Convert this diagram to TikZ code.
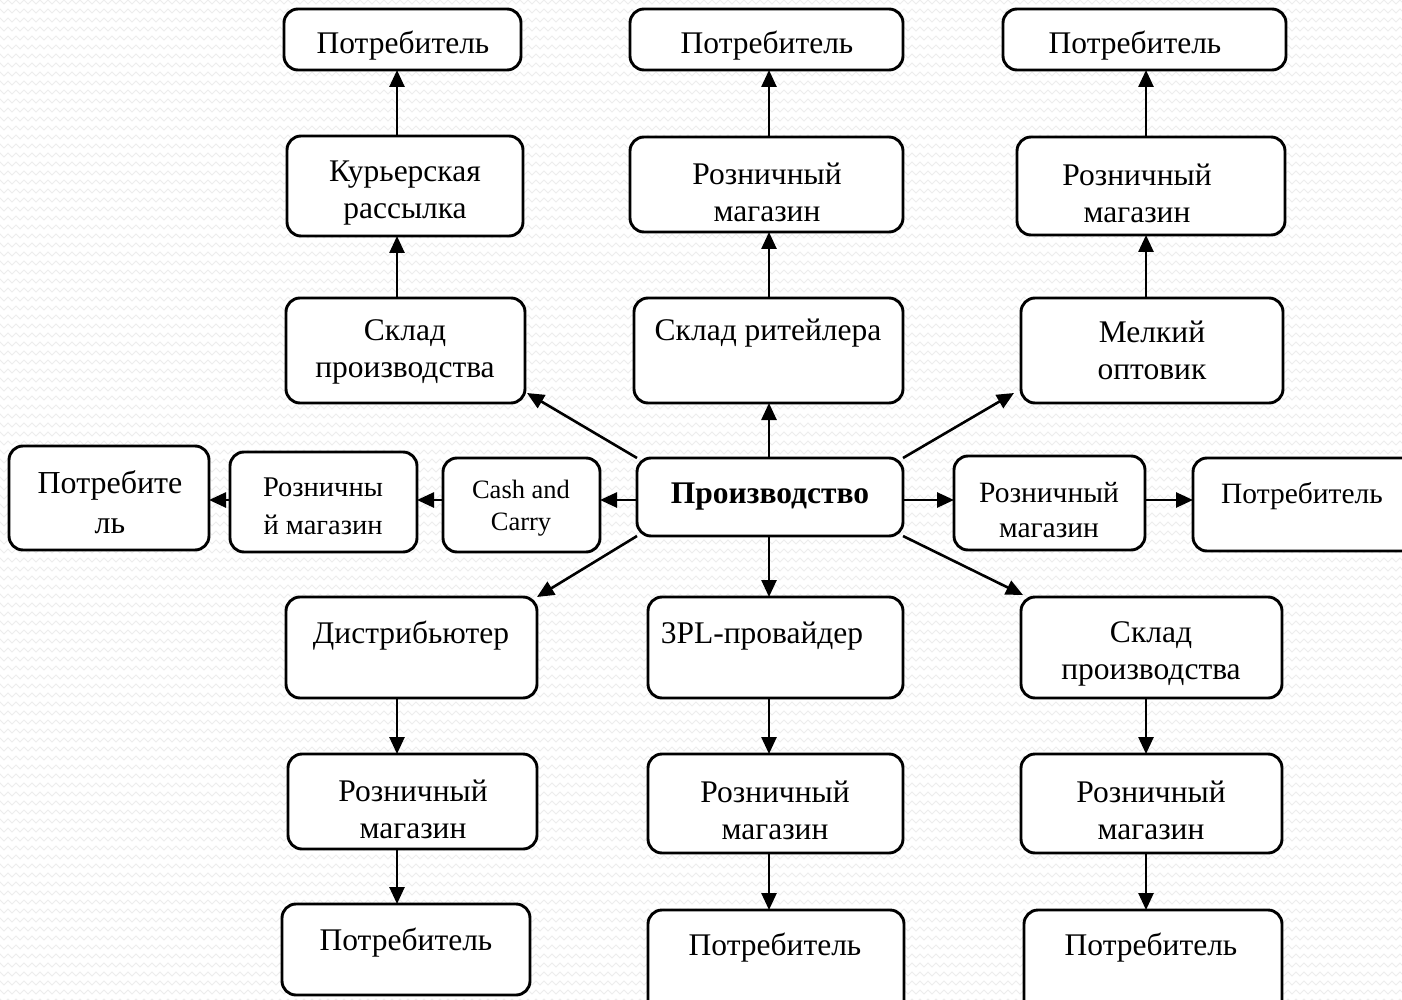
\documentclass[tikz,border=0pt]{standalone}
\usepackage{fontspec}
\setmainfont{Liberation Serif}
\usetikzlibrary{arrows.meta,decorations.pathmorphing}
\tikzset{
  box/.style={draw, line width=2.9pt, rounded corners=14pt, fill=white, inner sep=0pt, outer sep=0pt},
  txt/.style={font=\fontsize{31.5}{37}\selectfont, align=center, inner sep=0pt},
  txtl/.style={font=\fontsize{32}{40}\selectfont, align=center, inner sep=0pt},
  txts/.style={font=\fontsize{28.5}{38}\selectfont, align=center, inner sep=0pt},
  txtc/.style={font=\fontsize{26.5}{32}\selectfont, align=center, inner sep=0pt},
  txtm/.style={font=\fontsize{29.5}{35}\selectfont, align=center, inner sep=0pt},
  arr/.style={line width=2.6pt, -{Triangle[length=17pt,width=15pt]}},
  bgz/.style={draw=black!7, line width=0.9pt, decorate, decoration={zigzag,segment length=8pt,amplitude=2pt}}
}
\newcommand\bx[5]{\node[box, anchor=north west, minimum width={#4-#2}, minimum height={#5-#3}] (#1) at (#2,#3) {};}
\begin{document}
\begin{tikzpicture}[x=1pt,y=-1pt]
\useasboundingbox (0,0) rectangle (1402,1000);
\clip (0,0) rectangle (1402,1000);
\fill[white] (0,0) rectangle (1402,1000);
\foreach \yy in {2,11,...,1010} {\draw[bgz] (-10,\yy) -- (1412,\yy);}
% boxes
\bx{A1}{284}{9}{521}{70}
\bx{A2}{630}{9}{903}{70}
\bx{A3}{1003}{9}{1286}{70}
\bx{B1}{287}{136}{523}{236}
\bx{B2}{630}{137}{903}{232}
\bx{B3}{1017}{137}{1285}{235}
\bx{C1}{286}{298}{525}{403}
\bx{C2}{634}{298}{903}{403}
\bx{C3}{1021}{298}{1283}{403}
\bx{D1}{9}{446}{209}{550}
\bx{D2}{230}{452}{417}{552}
\bx{D3}{443}{458}{600}{552}
\bx{P}{637}{458}{903}{536}
\bx{D5}{954}{456}{1145}{550}
\bx{D6}{1193}{458}{1420}{551}
\bx{E1}{286}{597}{537}{698}
\bx{E2}{648}{597}{903}{698}
\bx{E3}{1021}{597}{1282}{698}
\bx{F1}{288}{754}{537}{849}
\bx{F2}{648}{754}{903}{853}
\bx{F3}{1021}{754}{1282}{853}
\bx{G1}{282}{904}{530}{995}
\bx{G2}{648}{910}{904}{1015}
\bx{G3}{1024}{910}{1282}{1015}
% texts
\node[txt] (A1t) at (403,46) {Потребитель};
\node[txt] (A2t) at (767,46) {Потребитель};
\node[txt] (A3t) at (1135,46) {Потребитель};
\node[txt] (B1t) at (405,193) {Курьерская\\рассылка};
\node[txt] (B2t) at (767,192) {Розничный\\магазин};
\node[txt] (B3t) at (1137,193) {Розничный\\магазин};
\node[txt] (C1t) at (405,352) {Склад\\производства};
\node[txt] (C2t) at (768,333) {Склад ритейлера};
\node[txt] (C3t) at (1152,350) {Мелкий\\оптовик};
\node[txtl] (D1t) at (110,502) {Потребите\\ль};
\node[txts] (D2t) at (323,506) {Розничны\\й магазин};
\node[txtc] (D3t) at (521,508) {Cash and\\Carry};
\node[txt, font=\fontsize{31.5}{37}\selectfont\bfseries] (Pt) at (770,497) {Производство};
\node[txtm] (D5t) at (1049,510) {Розничный\\магазин};
\node[txtm] (D6t) at (1302,496) {Потребитель};
\node[txt] (E1t) at (411,636) {Дистрибьютер};
\node[txt] (E2t) at (762,636) {3PL-провайдер};
\node[txt] (E3t) at (1151,654) {Склад\\производства};
\node[txt] (F1t) at (413,809) {Розничный\\магазин};
\node[txt] (F2t) at (775,810) {Розничный\\магазин};
\node[txt] (F3t) at (1151,810) {Розничный\\магазин};
\node[txt] (G1t) at (406,943) {Потребитель};
\node[txt] (G2t) at (775,948) {Потребитель};
\node[txt] (G3t) at (1151,948) {Потребитель};
% guides
\coordinate (cL) at (397,0);
\coordinate (cM) at (769,0);
\coordinate (cR) at (1146,0);
\coordinate (hY) at (0,500);
% vertical arrows up
\draw[arr] (C1.north -| cL) -- (B1.south -| cL);
\draw[arr] (B1.north -| cL) -- (A1.south -| cL);
\draw[arr] (P.north -| cM) -- (C2.south -| cM);
\draw[arr] (C2.north -| cM) -- (B2.south -| cM);
\draw[arr] (B2.north -| cM) -- (A2.south -| cM);
\draw[arr] (C3.north -| cR) -- (B3.south -| cR);
\draw[arr] (B3.north -| cR) -- (A3.south -| cR);
% vertical arrows down
\draw[arr] (P.south -| cM) -- (E2.north -| cM);
\draw[arr] (E2.south -| cM) -- (F2.north -| cM);
\draw[arr] (F2.south -| cM) -- (G2.north -| cM);
\draw[arr] (E1.south -| cL) -- (F1.north -| cL);
\draw[arr] (F1.south -| cL) -- (G1.north -| cL);
\draw[arr] (E3.south -| cR) -- (F3.north -| cR);
\draw[arr] (F3.south -| cR) -- (G3.north -| cR);
% horizontal arrows
\draw[arr] (P.west |- hY) -- (D3.east |- hY);
\draw[arr] (D3.west |- hY) -- (D2.east |- hY);
\draw[arr] (D2.west |- hY) -- (D1.east |- hY);
\draw[arr] (P.east |- hY) -- (D5.west |- hY);
\draw[arr] (D5.east |- hY) -- (D6.west |- hY);
% diagonal arrows
\draw[arr] (P.north west) -- ([shift={(2,-10)}]C1.south east);
\draw[arr] (P.north east) -- ([shift={(-7,-10)}]C3.south west);
\draw[arr] (P.south west) -- (E1.north east);
\draw[arr] (P.south east) -- ([shift={(2,-2)}]E3.north west);
\end{tikzpicture}
\end{document}
